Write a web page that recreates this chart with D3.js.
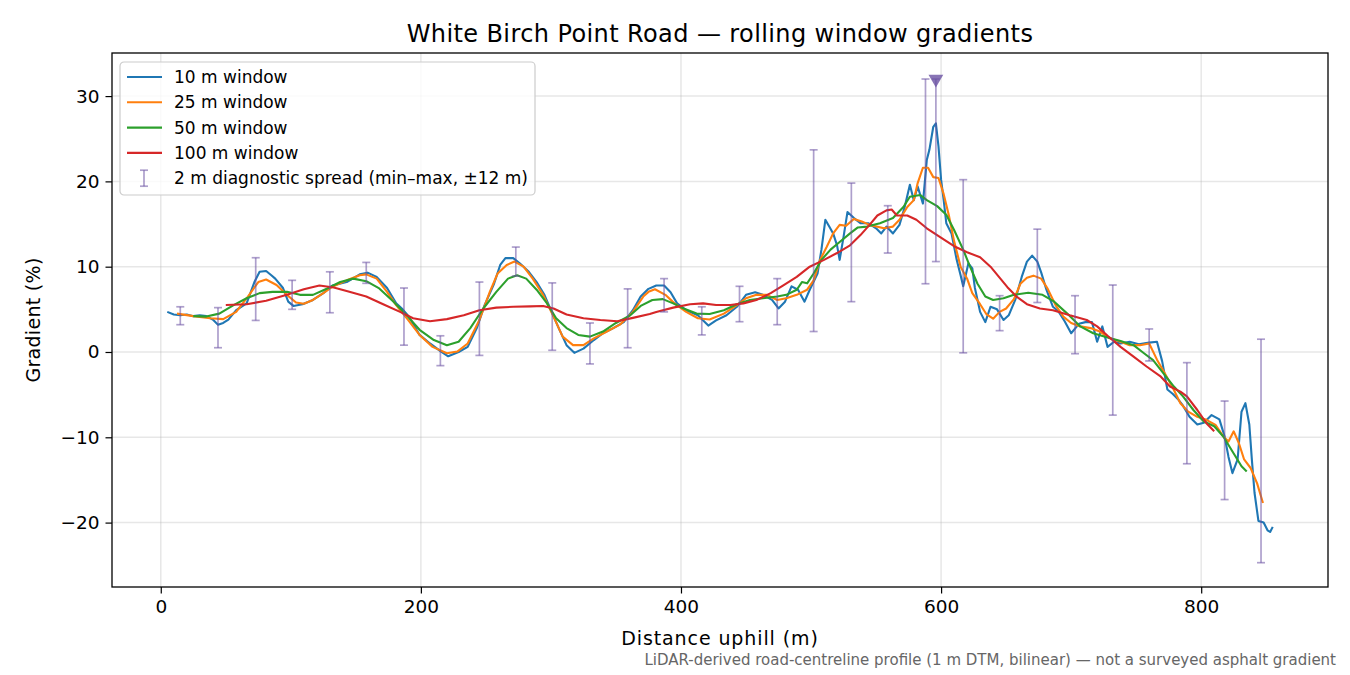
<!DOCTYPE html>
<html>
<head>
<meta charset="utf-8">
<script src="https://cdn.jsdelivr.net/npm/d3@7"></script>
<style>
  body { margin: 0; background: #fff; }
  svg { font-family: "DejaVu Sans", sans-serif; }
</style>
</head>
<body>
<div id="chart"></div>
<script>
// rolling-window gradients, [distance m, gradient %]
const win10 = [[5,4.7],[10,4.4],[15,4.3],[20,4.4],[25,4.2],[30,4.3],[35,4.2],[40,3.8],[44,3.2],[48,3.4],[52,3.8],[58,4.9],[66,5.7],[72,8.2],[76,9.4],[81,9.5],[85,9.0],[88,8.6],[94,7.5],[98,5.9],[102,5.4],[109,5.6],[117,6.1],[125,6.9],[132,7.8],[143,8.2],[153,9.1],[159,9.3],[166,8.8],[174,7.5],[181,5.7],[186,5.0],[191,4.1],[199,2.0],[207,1.0],[215,0.1],[221,-0.5],[229,0.0],[236,0.6],[243,2.8],[249,5.5],[256,7.9],[261,10.2],[265,11.0],[271,11.0],[276,10.4],[283,9.4],[289,8.2],[295,6.7],[300,4.9],[306,2.8],[312,0.8],[318,-0.1],[325,0.4],[333,1.4],[340,2.2],[348,2.8],[356,3.5],[363,4.9],[369,6.5],[375,7.4],[381,7.8],[387,7.8],[392,7.0],[397,5.7],[404,4.9],[413,4.3],[421,3.1],[427,3.7],[435,4.3],[443,5.3],[450,6.7],[457,7.0],[463,6.7],[470,6.1],[475,5.1],[480,5.9],[485,7.7],[490,7.3],[495,5.9],[499,7.3],[505,9.2],[508,12.0],[511,15.5],[514,14.7],[517,13.9],[520,12.5],[522,10.8],[525,13.5],[528,16.4],[533,15.7],[538,15.1],[544,15.1],[550,14.5],[554,13.9],[558,14.7],[563,13.9],[568,14.9],[572,17.0],[576,19.6],[579,17.8],[582,19.4],[586,17.4],[589,22.5],[591,23.7],[594,26.4],[596,26.8],[598,24.1],[600,20.2],[602,17.8],[604,15.1],[608,13.9],[612,10.8],[615,9.0],[617,7.7],[621,10.4],[624,9.8],[626,7.5],[630,4.7],[634,3.5],[638,5.3],[643,5.0],[648,3.75],[652,4.3],[657,6.1],[662,8.8],[666,10.6],[670,11.3],[674,10.6],[677,9.3],[681,7.3],[686,5.3],[690,4.8],[695,3.6],[700,2.2],[706,3.3],[711,3.5],[716,3.5],[720,1.2],[724,3.0],[728,0.6],[733,1.2],[738,1.0],[745,1.2],[752,0.9],[760,1.1],[766,1.2],[770,-1.1],[774,-4.4],[778,-4.9],[782,-5.5],[786,-6.3],[791,-7.6],[797,-8.5],[802,-8.3],[808,-7.4],[814,-7.9],[818,-9.9],[821,-12.3],[824,-14.2],[828,-12.6],[831,-7.0],[834,-6.0],[837,-8.5],[839,-12.7],[841,-16.5],[844,-19.8],[848,-20.0],[851,-20.9],[853,-21.1],[855,-20.5]];

const win25 = [[12.5,4.5],[25,4.2],[38,3.95],[48,3.85],[58,4.7],[67,6.5],[75,8.2],[81,8.5],[89,7.85],[97,6.7],[104,5.8],[110,5.65],[117,6.1],[125,6.9],[132,7.65],[143,8.4],[153,9.0],[158,9.1],[166,8.6],[174,7.05],[181,5.5],[190,3.8],[199,2.0],[209,0.6],[220,-0.15],[228,0.05],[236,1.0],[245,3.75],[253,7.05],[259,9.2],[266,10.2],[272,10.6],[279,10.0],[286,8.6],[294,6.7],[302,4.15],[309,1.8],[317,0.8],[325,0.8],[333,1.6],[343,2.4],[353,3.2],[363,4.7],[371,6.5],[375,7.05],[380,7.35],[388,6.7],[395,5.7],[404,4.7],[413,3.95],[422,3.8],[433,4.5],[443,5.5],[450,6.3],[458,6.7],[466,6.7],[474,6.1],[481,6.3],[489,6.7],[497,7.3],[502,8.4],[507,10.8],[512,12.3],[517,13.9],[522,14.9],[527,14.8],[533,15.6],[539,15.3],[545,14.9],[556,14.5],[563,14.7],[568,15.5],[574,17.0],[579,17.8],[582,19.8],[586,21.6],[590,21.6],[594,20.5],[598,20.4],[602,18.5],[606,16.0],[610,13.0],[615,10.0],[620,8.6],[624,6.9],[630,5.6],[635,4.4],[640,3.9],[645,4.7],[650,5.1],[656,6.2],[661,8.0],[666,8.7],[671,8.95],[677,8.6],[682,7.4],[688,5.5],[694,4.15],[700,3.4],[707,3.0],[715,2.8],[722,2.4],[730,1.6],[738,1.2],[745,0.8],[753,0.8],[760,1.0],[766,-0.9],[772,-2.5],[779,-4.45],[784,-6.0],[790,-7.0],[797,-7.6],[804,-7.95],[811,-8.55],[817,-9.9],[821,-10.5],[825,-9.3],[829,-10.7],[833,-12.6],[838,-13.6],[843,-15.4],[847.5,-17.7]];

const win50 = [[25,4.2],[35,4.15],[45,4.5],[56,5.5],[66,6.3],[76,6.9],[86,7.05],[97,7.05],[107,6.7],[117,6.7],[128,7.45],[138,8.2],[148,8.6],[158,8.3],[168,7.45],[179,5.9],[190,4.15],[199,2.6],[210,1.4],[220,0.8],[229,1.2],[238,2.8],[248,5.1],[258,7.05],[267,8.6],[274,9.0],[281,8.6],[289,7.3],[297,5.7],[304,3.95],[312,2.8],[321,2.0],[330,1.8],[340,2.4],[350,3.4],[361,4.3],[369,5.4],[378,6.1],[386,6.2],[394,5.7],[402,5.1],[412,4.5],[422,4.45],[433,4.9],[443,5.6],[453,6.1],[463,6.3],[474,6.5],[481,6.7],[489,7.3],[493,8.2],[497,8.05],[502,9.2],[508,10.8],[515,12.0],[522,12.9],[530,13.9],[536,14.6],[543,14.7],[553,15.1],[563,15.7],[571,17.0],[576,18.2],[584,18.4],[589,17.8],[597,17.1],[604,16.1],[610,14.3],[617,12.0],[622,10.1],[628,8.0],[634,6.5],[640,6.1],[648,6.3],[656,6.7],[667,6.95],[678,6.7],[687,5.9],[697,4.5],[707,3.0],[717,2.2],[728,1.7],[738,1.3],[748,0.8],[756,-0.15],[763,-0.95],[771,-2.5],[779,-4.05],[786,-5.2],[794,-6.8],[802,-8.15],[810,-8.7],[817,-9.9],[825,-11.9],[831,-13.4],[835,-14.0]];

const win100 = [[50,5.5],[66,5.6],[81,6.0],[97,6.7],[110,7.35],[122,7.8],[133,7.55],[145,7.05],[158,6.5],[171,5.6],[184,4.7],[194,3.95],[207,3.6],[220,3.85],[233,4.3],[245,4.9],[258,5.2],[271,5.3],[284,5.35],[294,5.4],[302,5.1],[312,4.4],[325,3.95],[338,3.75],[351,3.6],[363,4.0],[376,4.45],[381,4.7],[394,5.2],[407,5.6],[417,5.7],[427,5.5],[438,5.5],[448,5.7],[458,6.1],[469,6.9],[479,7.85],[489,8.8],[499,10.0],[510,10.8],[520,11.6],[530,12.5],[538,13.7],[545,14.9],[551,16.0],[558,16.6],[562,16.7],[566,16.0],[574,16.0],[581,15.5],[589,14.5],[599,13.5],[610,12.4],[620,11.7],[630,11.1],[638,10.0],[644,8.9],[651,7.6],[658,6.5],[666,5.6],[676,5.1],[686,4.9],[699,4.3],[712,3.75],[720,3.0],[728,1.9],[738,0.6],[748,-0.55],[758,-1.7],[769,-2.9],[776,-4.05],[784,-4.65],[789,-5.2],[797,-6.8],[804,-8.35],[810,-9.3]];

// 2 m diagnostic spread, min–max within ±12 m
const spreadAt = [15, 44, 73, 101, 130, 158, 187, 215, 245, 273, 301, 330, 359, 387, 416, 445, 474, 502, 531, 559, 588, 596, 617, 645, 674, 703, 732, 760, 789, 818, 846];
const spreadLo = [3.2, 0.5, 3.7, 5.0, 4.6, 8.05, 0.8, -1.6, -0.4, 8.9, 0.2, -1.4, 0.5, 4.7, 2.0, 3.55, 3.2, 2.4, 5.9, 11.6, 8.0, 10.6, -0.1, 2.5, 5.8, -0.2, -7.4, -1.05, -13.1, -17.3, -24.7];
const spreadHi = [5.3, 5.2, 11.05, 8.4, 9.4, 10.5, 7.5, 1.9, 8.2, 12.3, 8.1, 3.4, 7.4, 8.6, 5.3, 7.7, 8.6, 23.7, 19.8, 17.15, 32.0, 32.0, 20.2, 6.6, 14.4, 6.6, 7.85, 2.7, -1.25, -5.75, 1.5];

// steepest 2 m spread marker
const peakMark = [596, 32.0];

const seriesNames = ["10 m window", "25 m window", "50 m window", "100 m window"];
const spreadName = "2 m diagnostic spread (min–max, ±12 m)";
const xTicks = [0, 200, 400, 600, 800];
const yTicks = [-20, -10, 0, 10, 20, 30];

const W = 1350, H = 675;
const margin = {top: 53, right: 22, bottom: 88, left: 112};
const colors = ["#1f77b4", "#ff7f0e", "#2ca02c", "#d62728"];
const spreadColor = "#6a51a3";

const svg = d3.select("#chart").append("svg")
    .attr("width", W).attr("height", H);

const x = d3.scaleLinear().domain([-37.5, 897.5]).range([margin.left, W - margin.right]);
const y = d3.scaleLinear().domain([-27.55, 35.05]).range([H - margin.bottom, margin.top]);

// grid
const grid = svg.append("g").attr("stroke", "#b0b0b0").attr("stroke-opacity", 0.3).attr("stroke-width", 1.5);
grid.selectAll(".gx").data(xTicks).join("line")
    .attr("x1", d => x(d)).attr("x2", d => x(d))
    .attr("y1", margin.top).attr("y2", H - margin.bottom);
grid.selectAll(".gy").data(yTicks).join("line")
    .attr("y1", d => y(d)).attr("y2", d => y(d))
    .attr("x1", margin.left).attr("x2", W - margin.right);

// axes
const fmt = d => d < 0 ? "\u2212" + Math.abs(d) : String(d);
const xAxis = svg.append("g")
    .attr("transform", `translate(0,${H - margin.bottom})`)
    .call(d3.axisBottom(x).tickValues(xTicks).tickFormat(fmt).tickSize(6.5).tickPadding(6));
const yAxis = svg.append("g")
    .attr("transform", `translate(${margin.left},0)`)
    .call(d3.axisLeft(y).tickValues(yTicks).tickFormat(fmt).tickSize(6.5).tickPadding(6));
[xAxis, yAxis].forEach(a => {
    a.select(".domain").remove();
    a.selectAll(".tick line").attr("stroke", "#000").attr("stroke-width", 1.2);
    a.selectAll(".tick text").attr("fill", "#000").style("font-size", "18.5px").style("font-family", "DejaVu Sans");
});

// series lines
const line = d3.line().x(d => x(d[0])).y(d => y(d[1]));
const allSeries = [win10, win25, win50, win100];
svg.append("g").selectAll("path").data(allSeries).join("path")
    .attr("d", line)
    .attr("fill", "none")
    .attr("stroke", (d, i) => colors[i])
    .attr("stroke-width", 2.1)
    .attr("stroke-linejoin", "round");

// spread error bars
const bars = svg.append("g").attr("stroke", spreadColor).attr("stroke-opacity", 0.55).attr("stroke-width", 1.7);
spreadAt.forEach((d, i) => {
    const g = bars.append("g");
    g.append("line").attr("x1", x(d)).attr("x2", x(d)).attr("y1", y(spreadLo[i])).attr("y2", y(spreadHi[i]));
    g.append("line").attr("x1", x(d) - 4).attr("x2", x(d) + 4).attr("y1", y(spreadLo[i])).attr("y2", y(spreadLo[i]));
    g.append("line").attr("x1", x(d) - 4).attr("x2", x(d) + 4).attr("y1", y(spreadHi[i])).attr("y2", y(spreadHi[i]));
});

// peak marker
svg.append("path")
    .attr("d", d3.symbol().type(d3.symbolTriangle).size(95))
    .attr("transform", `translate(${x(peakMark[0])},${y(peakMark[1])}) rotate(180)`)
    .attr("fill", spreadColor).attr("fill-opacity", 0.8);

// frame
svg.append("rect")
    .attr("x", margin.left).attr("y", margin.top)
    .attr("width", W - margin.left - margin.right)
    .attr("height", H - margin.top - margin.bottom)
    .attr("fill", "none").attr("stroke", "#000").attr("stroke-width", 1.3);

// legend
const lg = svg.append("g").attr("transform", "translate(120,62)");
lg.append("rect").attr("width", 415).attr("height", 133).attr("rx", 4)
    .attr("fill", "#fff").attr("fill-opacity", 0.8)
    .attr("stroke", "#cccccc").attr("stroke-width", 1.2);
seriesNames.forEach((name, i) => {
    const ry = 15 + i * 25.3;
    lg.append("line").attr("x1", 7).attr("x2", 42).attr("y1", ry).attr("y2", ry)
        .attr("stroke", colors[i]).attr("stroke-width", 2.1);
    lg.append("text").attr("x", 54).attr("y", ry).attr("dy", "0.36em")
        .style("font-size", "17px").text(name);
});
{
    const ry = 15 + 4 * 25.3;
    const sg = lg.append("g").attr("stroke", spreadColor).attr("stroke-opacity", 0.55).attr("stroke-width", 1.7);
    sg.append("line").attr("x1", 24).attr("x2", 24).attr("y1", ry - 8).attr("y2", ry + 8);
    sg.append("line").attr("x1", 20).attr("x2", 28).attr("y1", ry - 8).attr("y2", ry - 8);
    sg.append("line").attr("x1", 20).attr("x2", 28).attr("y1", ry + 8).attr("y2", ry + 8);
    lg.append("text").attr("x", 54).attr("y", ry).attr("dy", "0.36em")
        .style("font-size", "17px").text(spreadName);
}

// titles
svg.append("text").attr("x", (margin.left + W - margin.right) / 2).attr("y", 42)
    .attr("text-anchor", "middle").style("font-size", "24px").style("letter-spacing", "0.4px")
    .text("White Birch Point Road — rolling window gradients");
svg.append("text").attr("x", (margin.left + W - margin.right) / 2).attr("y", 645)
    .attr("text-anchor", "middle").style("font-size", "19px").style("letter-spacing", "0.9px")
    .text("Distance uphill (m)");
svg.append("text")
    .attr("transform", `translate(40,${(margin.top + H - margin.bottom) / 2}) rotate(-90)`)
    .attr("text-anchor", "middle").style("font-size", "19px").style("letter-spacing", "0.3px")
    .text("Gradient (%)");
svg.append("text").attr("x", 1336).attr("y", 665)
    .attr("text-anchor", "end").attr("fill", "#666").style("font-size", "15px")
    .text("LiDAR-derived road-centreline profile (1 m DTM, bilinear) — not a surveyed asphalt gradient");
</script>
</body>
</html>
